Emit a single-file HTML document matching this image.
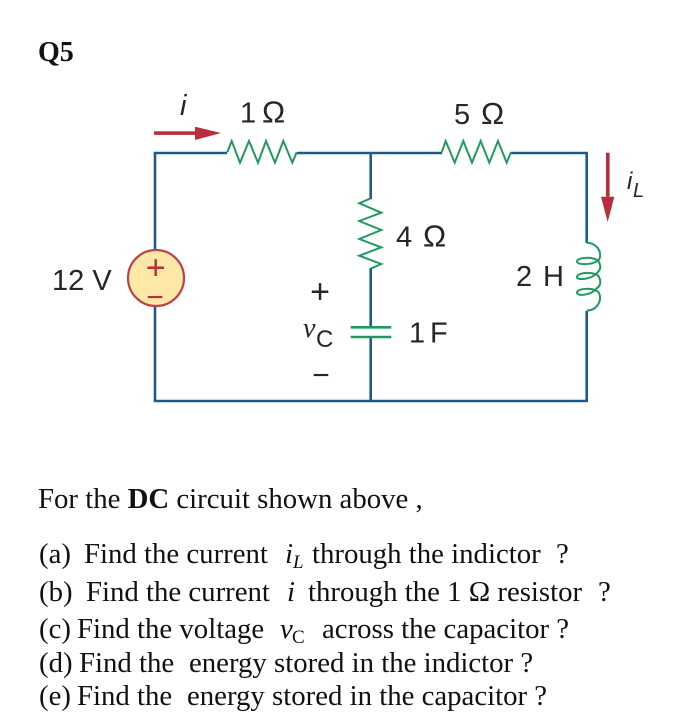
<!DOCTYPE html>
<html>
<head>
<meta charset="utf-8">
<style>
html,body{margin:0;padding:0;background:#fff;width:689px;height:719px;overflow:hidden}
svg{display:block}
.s{font-family:"Liberation Sans",sans-serif;font-size:29px;fill:#262626}
.o{font-size:31px}
.t{font-family:"Liberation Serif",serif;font-size:28.8px;fill:#111}
.i{font-style:italic}
</style>
</head>
<body>
<svg width="689" height="719" viewBox="0 0 689 719" xmlns="http://www.w3.org/2000/svg">
<text x="38" y="61" class="t" style="font-weight:bold;font-size:28px">Q5</text>

<!-- wires -->
<g fill="none" stroke="#1f5a8f" stroke-width="2.6">
<path d="M155 250V153H227M297 153H442M511 153H586.7V243"/>
<path d="M586.7 311V401H155V306"/>
<path d="M370.7 153V199M370.7 268V327M370.7 337V401"/>
</g>

<!-- resistors -->
<g fill="none" stroke="#1f9a5f" stroke-width="2" stroke-linejoin="miter">
<polyline points="227.3,152.3 231.7,141 240,162.7 249,141 258,162.7 266,141 275,162.7 283.3,141 292.3,162.7 296.7,152.3"/>
<polyline points="441.7,152.3 445.7,141 454.7,162.7 463.3,141 472,162.7 480.7,141 489.3,162.7 498,141 506.7,162.7 511,152.3"/>
<polyline points="370.7,198.3 359.3,203.3 381.3,212.7 359.3,221 381.3,230 359.3,239 381.3,247.3 359.3,255.7 381.3,264 370.7,268.7"/>
<path d="M350.7 327.3H391.3M350.7 337H391.3" stroke-width="2.6"/>
<!-- inductor -->
<path stroke-width="2" d="M586.7 242.7C596 243 601 250 600 257C599 265 577 266 577 261.5C577 257 596 256 599 262C602 268 599 271 597 273C592 279 577 281 577 277C577 272 596 271 599 277C602 283 599 287 597 288C592 295 577 297 577 292.5C577 288 596 287 599 293C602 300 598 310 586.7 310.7"/>
</g>

<!-- source -->
<circle cx="156" cy="278" r="28" fill="#fde8a8" stroke="#bd4245" stroke-width="2.2"/>
<text x="155.700" y="279" text-anchor="middle" class="s" style="font-size:34px;fill:#b92d3a">+</text>
<text x="155" y="307" text-anchor="middle" class="s" style="font-size:30px;fill:#b92d3a">−</text>

<!-- arrows -->
<g fill="#b92d3a">
<rect x="154" y="131.300" width="42" height="3.600"/>
<polygon points="195,126.700 221,133 195,140"/>
<rect x="606" y="152.700" width="3.600" height="44"/>
<polygon points="601,196.700 614.300,196.700 607.700,222"/>
</g>

<!-- circuit labels -->
<text x="180" y="115" class="s i">i</text>
<text y="122.700" class="s"><tspan x="240">1</tspan><tspan x="262" class="o">Ω</tspan></text>
<text y="124" class="s"><tspan x="454">5</tspan><tspan x="481" class="o">Ω</tspan></text>
<text y="246.700" class="s"><tspan x="396">4</tspan><tspan x="423" class="o">Ω</tspan></text>
<text y="342.700" class="s"><tspan x="409">1</tspan><tspan x="430">F</tspan></text>
<text y="286" class="s"><tspan x="516">2</tspan><tspan x="543">H</tspan></text>
<text x="52" y="290" class="s">12 V</text>
<text x="627" y="189" class="s i" style="font-size:24px">i</text>
<text x="633" y="197" class="s i" style="font-size:20px">L</text>
<text x="320" y="303" text-anchor="middle" class="s" style="font-size:34px">+</text>
<text x="303" y="337" class="t i" style="font-size:28px;fill:#262626">v</text>
<text x="316" y="347" class="s" style="font-size:24px">C</text>
<text x="321" y="385" text-anchor="middle" class="s" style="font-size:30px">−</text>

<!-- question text -->
<text x="38" y="508" class="t">For the <tspan font-weight="bold">DC</tspan> circuit shown above ,</text>

<text y="563" class="t"><tspan x="39">(a)</tspan><tspan x="84">Find the current</tspan><tspan x="285" class="i">i</tspan><tspan x="293" y="568" class="i" style="font-size:19px">L</tspan><tspan x="312" y="563">through the indictor</tspan><tspan x="556">?</tspan></text>
<text y="601" class="t"><tspan x="39">(b)</tspan><tspan x="86">Find the current</tspan><tspan x="287" class="i">i</tspan><tspan x="308">through the 1 Ω resistor</tspan><tspan x="598">?</tspan></text>
<text y="638" class="t"><tspan x="39">(c)</tspan><tspan x="77">Find the voltage</tspan><tspan x="280" class="i">v</tspan><tspan x="292" y="643" style="font-size:19px">C</tspan><tspan x="322" y="638">across the capacitor ?</tspan></text>
<text y="672" class="t"><tspan x="39">(d)</tspan><tspan x="79">Find the</tspan><tspan x="189">energy stored in the indictor ?</tspan></text>
<text y="705" class="t"><tspan x="39">(e)</tspan><tspan x="77">Find the</tspan><tspan x="187">energy stored in the capacitor ?</tspan></text>
</svg>
</body>
</html>
